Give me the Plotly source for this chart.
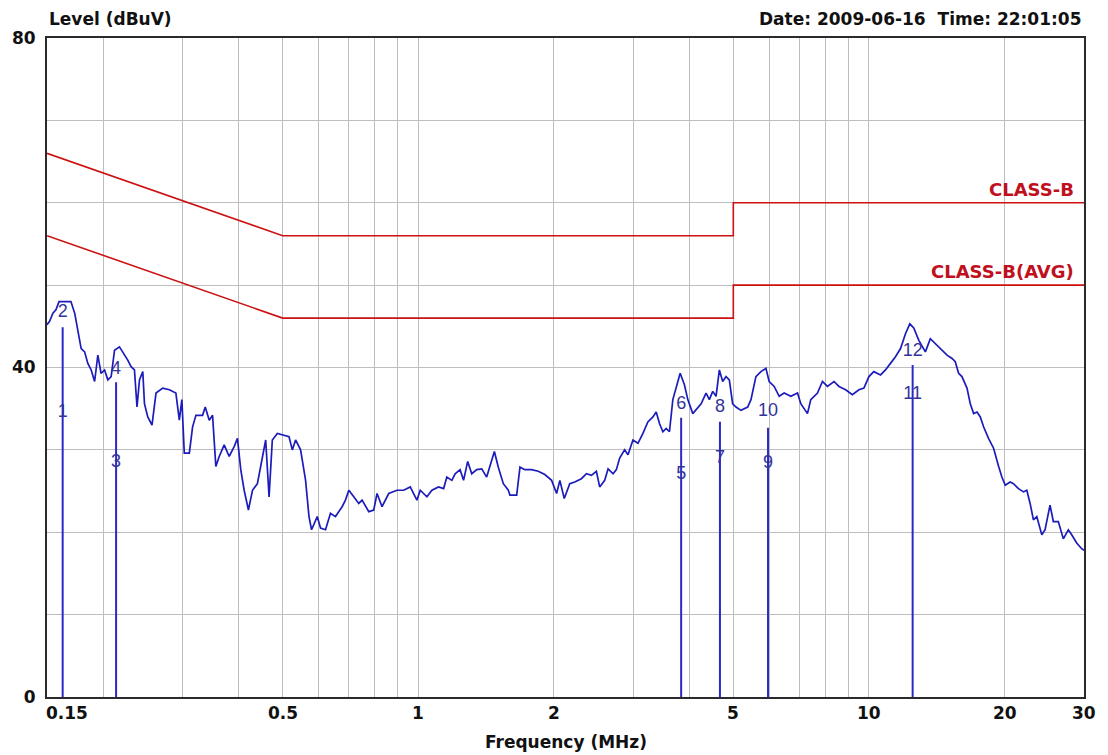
import numpy as np
import plotly.graph_objects as go

# ---------------- data ----------------
freq_mhz = [
    0.15, 0.152, 0.1546, 0.157, 0.1595, 0.1695, 0.1728, 0.1757, 0.1786, 0.1818,
    0.1848, 0.188, 0.1913, 0.1945, 0.1977, 0.2013, 0.2047, 0.2082, 0.2118, 0.2172,
    0.221, 0.2266, 0.2305, 0.2345, 0.2376, 0.2406, 0.2447, 0.2468, 0.251, 0.2565,
    0.2618, 0.2709, 0.2803, 0.2898, 0.2949, 0.2988, 0.3025, 0.3104, 0.3156, 0.321,
    0.3321, 0.3367, 0.3436, 0.3495, 0.3554, 0.3616, 0.3709, 0.3805, 0.3903, 0.3969,
    0.4037, 0.4107, 0.4198, 0.4286, 0.4395, 0.4509, 0.4585, 0.4665, 0.4743, 0.4866,
    0.4992, 0.5166, 0.5253, 0.5342, 0.548, 0.5622, 0.572, 0.5796, 0.5967, 0.6069,
    0.6225, 0.6384, 0.6548, 0.6776, 0.6891, 0.7011, 0.7191, 0.7377, 0.7503, 0.7764,
    0.7964, 0.8099, 0.8309, 0.8597, 0.8967, 0.9279, 0.9596, 0.9929, 1.010, 1.045,
    1.072, 1.109, 1.138, 1.157, 1.187, 1.207, 1.238, 1.260, 1.287, 1.314,
    1.348, 1.383, 1.418, 1.442, 1.475, 1.505, 1.544, 1.584, 1.597, 1.653,
    1.681, 1.724, 1.784, 1.845, 1.909, 1.976, 2.027, 2.061, 2.108, 2.168,
    2.224, 2.301, 2.361, 2.422, 2.484, 2.526, 2.592, 2.637, 2.705, 2.751,
    2.798, 2.869, 2.919, 2.994, 3.072, 3.151, 3.231, 3.316, 3.372, 3.429,
    3.489, 3.548, 3.608, 3.671, 3.811, 3.895, 3.963, 4.065, 4.170, 4.241,
    4.350, 4.424, 4.501, 4.578, 4.656, 4.736, 4.817, 4.899, 4.983, 5.070,
    5.200, 5.381, 5.472, 5.612, 5.757, 5.906, 6.006, 6.161, 6.320, 6.483,
    6.708, 6.941, 7.059, 7.303, 7.428, 7.686, 7.884, 8.087, 8.364, 8.580,
    8.877, 9.185, 9.499, 9.745, 9.997, 10.25, 10.61, 10.88, 11.16, 11.45,
    11.75, 12.05, 12.32, 12.57, 12.90, 13.01, 13.34, 13.68, 14.04, 14.40,
    14.90, 15.29, 15.54, 15.81, 16.08, 16.50, 16.78, 17.07, 17.37, 17.66,
    17.96, 18.42, 18.90, 19.39, 19.72, 20.06, 20.57, 20.92, 21.46, 22.02,
    22.40, 22.78, 23.17, 23.57, 24.18, 24.59, 25.22, 25.65, 26.31, 26.99,
    27.69, 28.17, 28.90, 29.64, 30.0,
]
level_dbuv = [
    45.2, 45.6, 46.6, 47.0, 48.0, 48.0, 46.6, 44.2, 42.3, 41.9,
    40.5, 39.7, 38.3, 41.5, 39.3, 39.7, 38.5, 38.9, 42.1, 42.5,
    41.9, 40.9, 40.1, 39.7, 35.2, 38.5, 39.5, 35.6, 34.0, 33.0,
    36.9, 37.5, 37.3, 36.9, 33.6, 36.1, 29.6, 29.6, 32.8, 34.2,
    34.2, 35.2, 33.6, 34.2, 28.0, 29.2, 30.6, 29.2, 30.4, 31.4,
    27.6, 25.1, 22.7, 25.1, 25.9, 29.2, 31.2, 24.3, 31.2, 32.0,
    31.8, 31.6, 30.0, 31.2, 30.0, 26.3, 21.9, 20.3, 21.9, 20.5,
    20.3, 22.3, 21.9, 23.1, 23.9, 25.1, 24.3, 23.5, 23.9, 22.5,
    22.7, 24.7, 23.1, 24.7, 25.1, 25.1, 25.5, 23.9, 25.1, 24.3,
    25.1, 25.5, 25.3, 26.7, 26.3, 27.1, 27.6, 26.3, 28.6, 27.1,
    27.6, 27.7, 26.7, 27.9, 29.8, 27.9, 25.9, 25.1, 24.5, 24.5,
    27.9, 27.6, 27.6, 27.4, 27.0, 26.3, 24.7, 26.3, 24.1, 25.9,
    26.1, 26.5, 27.1, 26.9, 27.4, 25.5, 26.3, 27.7, 27.1, 27.6,
    29.0, 30.0, 29.4, 31.2, 30.8, 32.0, 33.4, 34.0, 34.6, 33.2,
    32.2, 32.6, 32.2, 36.1, 39.3, 37.9, 36.1, 34.4, 35.2, 35.6,
    36.9, 36.1, 37.1, 36.5, 39.7, 38.3, 38.9, 38.5, 35.6, 35.2,
    34.8, 35.2, 36.1, 38.9, 39.5, 39.9, 38.3, 37.7, 36.5, 36.9,
    36.5, 36.9, 35.6, 34.4, 36.1, 36.9, 38.3, 37.7, 38.3, 37.7,
    37.3, 36.7, 37.3, 37.5, 38.9, 39.5, 39.1, 39.7, 40.5, 41.3,
    42.3, 44.1, 45.3, 44.8, 43.3, 42.9, 41.9, 43.5, 42.9, 42.3,
    41.5, 41.1, 40.7, 39.3, 38.9, 37.5, 35.6, 34.4, 34.6, 34.0,
    32.8, 31.4, 30.2, 28.0, 26.7, 25.7, 26.1, 25.9, 25.3, 24.9,
    25.1, 23.5, 21.5, 21.9, 19.7, 20.3, 23.3, 21.3, 21.3, 19.2,
    20.3, 19.7, 18.7, 18.0, 17.8,
]

limit_freq = [0.15, 0.5, 0.5, 5.0, 5.0, 30.0]
limit_qp = [66, 56, 56, 56, 60, 60]
limit_avg = [56, 46, 46, 46, 50, 50]

marker_freq = [0.1625, 0.2135, 3.83, 4.67, 5.97, 12.5]
marker_peak = [44.9, 38.2, 33.9, 33.4, 32.7, 40.3]
odd_labels = ["1", "3", "5", "7", "9", "11"]
odd_level = [34.5, 28.5, 27.0, 29.0, 28.4, 36.7]
even_labels = ["2", "4", "6", "8", "10", "12"]
even_level = [46.7, 39.8, 35.5, 35.1, 34.6, 41.9]

grid_freq = [0.2, 0.3, 0.4, 0.5, 0.6, 0.7, 0.8, 0.9, 1, 2, 3, 4, 5, 6, 7, 8, 9, 10, 20]
xtick_vals = [0.15, 0.5, 1, 2, 5, 10, 20, 30]
xtick_text = ["0.15", "0.5", "1", "2", "5", "10", "20", "30"]
ytick_vals = [0, 10, 20, 30, 40, 50, 60, 70, 80]
ytick_text = ["0", "", "", "", "40", "", "", "", "80"]

# ---------------- styles ----------------
BOLD = dict(family="DejaVu Sans", size=17, color="#111111", weight="bold")
RED_LINE = "#cc1111"
RED_TEXT = "#c01020"
BLUE = "#1c1cbc"

fig = go.Figure()

fig.add_trace(go.Scatter(x=limit_freq, y=limit_qp, mode="lines",
                         line=dict(color=RED_LINE, width=1.6), hoverinfo="skip"))
fig.add_trace(go.Scatter(x=limit_freq, y=limit_avg, mode="lines",
                         line=dict(color=RED_LINE, width=1.6), hoverinfo="skip"))

# marker lines
mx, my = [], []
for f, p in zip(marker_freq, marker_peak):
    mx += [f, f, None]
    my += [0, p, None]
fig.add_trace(go.Scatter(x=mx, y=my, mode="lines",
                         line=dict(color="#2a2ac8", width=2), hoverinfo="skip"))

fig.add_trace(go.Scatter(x=freq_mhz, y=level_dbuv, mode="lines",
                         line=dict(color=BLUE, width=1.7), hoverinfo="skip"))

label_font = dict(family="Liberation Sans", size=18, color="#34349a", weight="normal")
fig.add_trace(go.Scatter(x=marker_freq, y=odd_level, mode="text", text=odd_labels,
                         textposition="middle center", textfont=label_font, hoverinfo="skip"))
fig.add_trace(go.Scatter(x=marker_freq, y=even_level, mode="text", text=even_labels,
                         textposition="middle center", textfont=label_font, hoverinfo="skip"))

fig.update_layout(
    width=1108, height=755,
    margin=dict(l=44, r=24, t=38, b=58),
    paper_bgcolor="white", plot_bgcolor="white",
    showlegend=False,
    font=dict(family="DejaVu Sans"),
    xaxis=dict(type="log", range=[np.log10(0.15), np.log10(30)],
               tickvals=grid_freq, ticktext=[""] * len(grid_freq),
               showgrid=True, gridcolor="#bdbdbd", gridwidth=1,
               showline=True, linecolor="#2a2a2a", linewidth=2, mirror=True,
               ticks="", zeroline=False),
    yaxis=dict(range=[0, 80], tickvals=ytick_vals, ticktext=ytick_text,
               showgrid=True, gridcolor="#bdbdbd", gridwidth=1,
               showline=True, linecolor="#2a2a2a", linewidth=2, mirror=True,
               ticks="", zeroline=False, tickfont=BOLD, ticklabelstandoff=6),
)

# x tick labels
for v, t in zip(xtick_vals, xtick_text):
    first = v == xtick_vals[0]
    fig.add_annotation(x=np.log10(v), y=0, xref="x", yref="paper", text=t,
                       showarrow=False, font=BOLD, yanchor="middle", yshift=-16,
                       xanchor="left" if first else "center", xshift=-3 if first else 0)

fig.add_annotation(x=0.5, y=0, xref="paper", yref="paper", text="Frequency (MHz)",
                   showarrow=False, font=BOLD, yanchor="middle", yshift=-45)
fig.add_annotation(x=0, y=1, xref="paper", yref="paper", text="Level (dBuV)",
                   showarrow=False, font=BOLD, xanchor="left", yanchor="middle", yshift=19)
fig.add_annotation(x=1, y=1, xref="paper", yref="paper",
                   text="Date: 2009-06-16&nbsp;&nbsp;Time: 22:01:05",
                   showarrow=False, font=BOLD, xanchor="right", yanchor="middle", yshift=19)

red_font = dict(family="DejaVu Sans", size=18, color=RED_TEXT, weight="bold")
fig.add_annotation(x=np.log10(30), y=limit_qp[-1], xref="x", yref="y", text="CLASS-B",
                   showarrow=False, font=red_font, xanchor="right", yanchor="bottom",
                   xshift=-8, yshift=1)
fig.add_annotation(x=np.log10(30), y=limit_avg[-1], xref="x", yref="y", text="CLASS-B(AVG)",
                   showarrow=False, font=red_font, xanchor="right", yanchor="bottom",
                   xshift=-8, yshift=1)

fig.write_html("out.html")
